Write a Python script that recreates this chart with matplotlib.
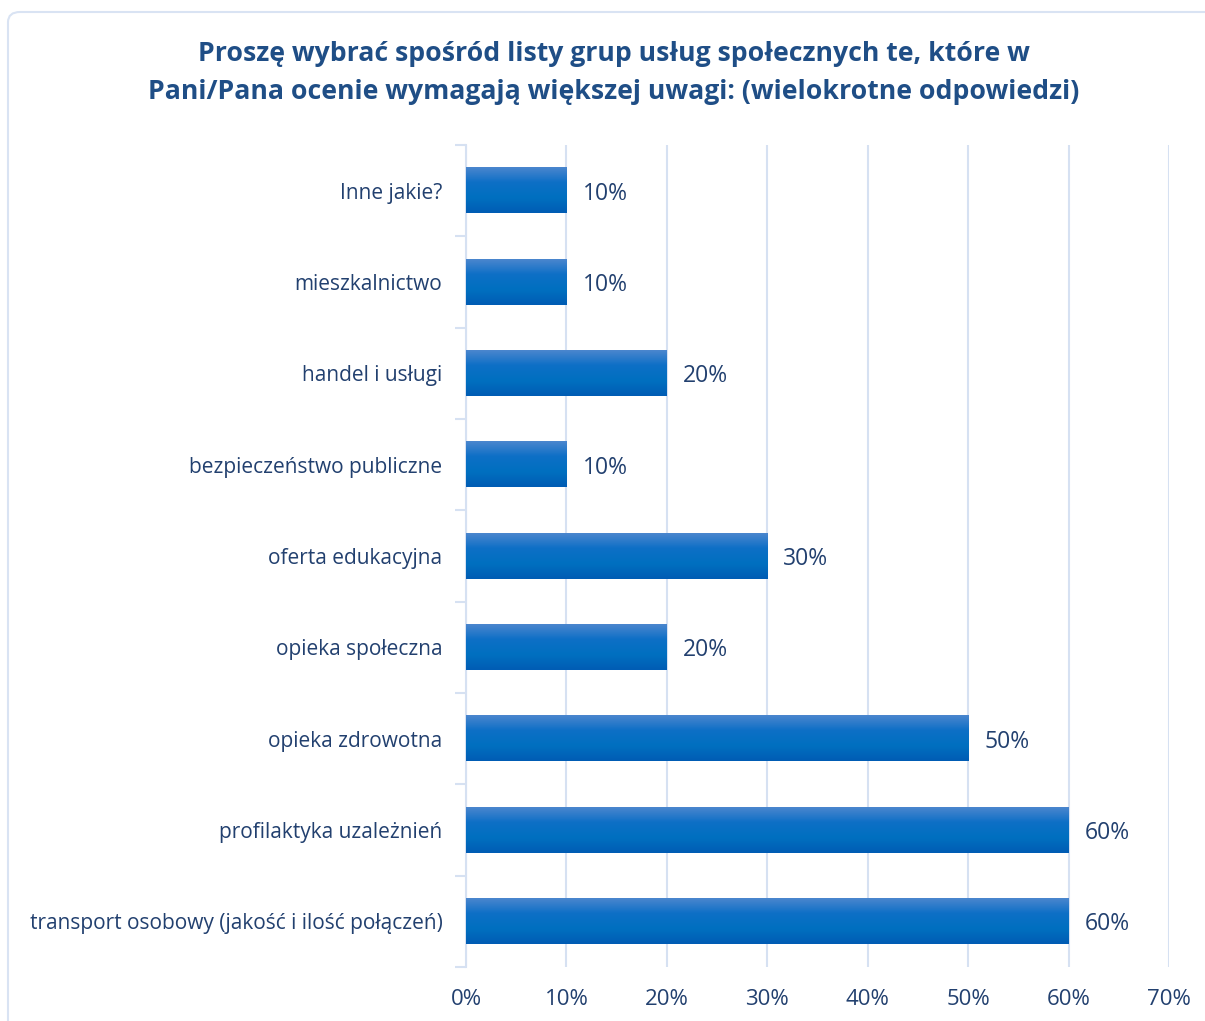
import numpy as np
import matplotlib.pyplot as plt
from matplotlib.patches import FancyBboxPatch
from matplotlib.colors import LinearSegmentedColormap
from matplotlib.ticker import FixedLocator

categories = ['transport osobowy (jakość i ilość połączeń)', 'profilaktyka uzależnień',
              'opieka zdrowotna', 'opieka społeczna', 'oferta edukacyjna',
              'bezpieczeństwo publiczne', 'handel i usługi', 'mieszkalnictwo', 'Inne jakie?']
values = [60, 60, 50, 20, 30, 10, 20, 10, 10]
xticks = [0, 10, 20, 30, 40, 50, 60, 70]
title = ('Proszę wybrać spośród listy grup usług społecznych te, które w\n'
         'Pani/Pana ocenie wymagają większej uwagi: (wielokrotne odpowiedzi)')

plt.rcParams['font.family'] = ['Open Sans', 'DejaVu Sans']
text_col = '#22406F'
grid_col = '#D6E1F2'

fig = plt.figure(figsize=(12.05, 10.21), dpi=100)
# outer chart border
border = FancyBboxPatch((8 / 1205, -0.05), 1.1, 1.05 - 12 / 1021,
                        boxstyle='round,pad=0,rounding_size=0.01',
                        transform=fig.transFigure, fc='white', ec='#D9E3F3', lw=1.5, zorder=-5)
fig.patches.append(border)

ax = fig.add_axes([466 / 1205, 54 / 1021, (1169 - 466) / 1205, (967 - 145) / 1021])
ax.set_facecolor('none')

cmap = LinearSegmentedColormap.from_list('bar', ['#4A86CE', '#0D6FC6', '#0070C0', '#005CB4'])
grad = np.linspace(0, 1, 64).reshape(-1, 1)
h = 0.5
y = np.arange(len(categories))
for yi, v in zip(y, values):
    ax.imshow(grad, extent=[0, v, yi - h / 2, yi + h / 2], origin='upper', cmap=cmap,
              aspect='auto', zorder=3, interpolation='bilinear')
    ax.text(v + 1.6, yi, f'{v}%', va='center_baseline', ha='left', fontsize=16.5, color=text_col)

ax.set_xlim(0, 70)
ax.set_ylim(-0.5, len(categories) - 0.5)
ax.set_xticks(xticks)
ax.set_xticklabels([f'{t}%' for t in xticks], fontsize=16, color=text_col)
ax.set_yticks(y)
ax.set_yticklabels(categories, fontsize=15, color=text_col)
ax.yaxis.set_minor_locator(FixedLocator(np.arange(-0.5, len(categories), 1)))
ax.tick_params(axis='y', which='major', length=0, pad=17)
ax.tick_params(axis='y', which='minor', length=8, color=grid_col, width=1.5)
ax.tick_params(axis='x', length=0, pad=16)
ax.grid(axis='x', color=grid_col, lw=1.5, zorder=0)
for s in ['top', 'right', 'bottom']:
    ax.spines[s].set_visible(False)
ax.spines['left'].set_color(grid_col)
ax.spines['left'].set_linewidth(1.5)

fig.text(614 / 1205, 1 - 73 / 1021, title, ha='center', va='center', fontsize=19.2,
         fontweight='bold', color='#1F4E86', linespacing=1.6)

fig.savefig('out.png', dpi=100)
